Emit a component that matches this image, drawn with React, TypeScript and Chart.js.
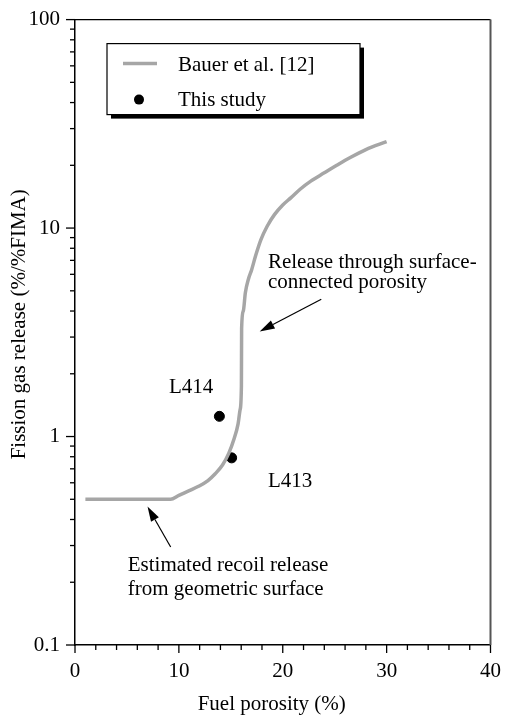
import React, { useEffect, useRef } from "react";
import { Chart, registerables } from "chart.js";

Chart.register(...registerables);

// Bauer et al. correlation: fuel porosity (%) vs fission gas release (%/%FIMA)
const bauerPorosity = [1, 9.2, 10.0, 11.0, 11.9, 12.8, 13.5, 14.2, 14.8, 15.3, 15.7, 15.9, 16.02, 16.04, 16.2, 16.4, 16.7, 17.0, 17.4, 17.9, 18.5, 19.2, 20.0, 20.8, 21.7, 22.7, 24.0, 25.2, 26.5, 28.0, 30.0];
const bauerRelease = [0.5, 0.5, 0.522, 0.55, 0.577, 0.615, 0.663, 0.73, 0.83, 0.97, 1.15, 1.35, 1.75, 3.3, 4.0, 4.9, 5.7, 6.3, 7.4, 8.8, 10.2, 11.6, 12.9, 14.0, 15.4, 16.8, 18.4, 20.0, 21.8, 23.8, 26.0];

// Measured specimens
const studyLabels = ["L414", "L413"];
const studyPorosity = [13.9, 15.08];
const studyRelease = [1.25, 0.79];

const legendLabels = ["Bauer et al. [12]", "This study"];

const xTickValues = [0, 2, 4, 6, 8, 10, 12, 14, 16, 18, 20, 22, 24, 26, 28, 30, 32, 34, 36, 38, 40];
const xTickLabels = ["0", "10", "20", "30", "40"];
const yMajorValues = [0.1, 1, 10, 100];
const yTickLabels = ["0.1", "1", "10", "100"];

const xTitle = "Fuel porosity (%)";
const yTitle = "Fission gas release (%/%FIMA)";

const FONT = "'Liberation Serif', 'Times New Roman', Times, serif";
const FONT_SIZE = 21;

function buildYTicks(): number[] {
  const out: number[] = [];
  for (let d = 0; d < yMajorValues.length; d++) {
    const base = yMajorValues[d];
    out.push(base);
    if (d < yMajorValues.length - 1) {
      for (let m = 2; m <= 9; m++) out.push(+(base * m).toPrecision(6));
    }
  }
  return out;
}

function majorIndexY(v: number): number {
  return yMajorValues.findIndex((m) => Math.abs(Math.log10(v) - Math.log10(m)) < 1e-6);
}

function drawArrow(ctx: CanvasRenderingContext2D, x1: number, y1: number, x2: number, y2: number) {
  const ang = Math.atan2(y2 - y1, x2 - x1);
  const headLen = 15;
  const headHalf = 4.5;
  const bx = x2 - headLen * Math.cos(ang);
  const by = y2 - headLen * Math.sin(ang);
  ctx.beginPath();
  ctx.moveTo(x1, y1);
  ctx.lineTo(bx, by);
  ctx.stroke();
  ctx.beginPath();
  ctx.moveTo(x2, y2);
  ctx.lineTo(bx + headHalf * Math.sin(ang), by - headHalf * Math.cos(ang));
  ctx.lineTo(bx - headHalf * Math.sin(ang), by + headHalf * Math.cos(ang));
  ctx.closePath();
  ctx.fill();
}

// Tick marks, frame, legend, titles and callouts
const decorations = {
  id: "decorations",
  afterDraw(chart: any) {
    const { ctx, chartArea: a, scales } = chart;
    const xs = scales.x;
    const ys = scales.y;
    ctx.save();
    ctx.strokeStyle = "#000";
    ctx.fillStyle = "#000";
    ctx.lineWidth = 1.3;

    // y tick marks (outside)
    ys.ticks.forEach((t: any) => {
      const py = ys.getPixelForValue(t.value);
      const len = majorIndexY(t.value) >= 0 ? 9 : 5;
      ctx.beginPath();
      ctx.moveTo(a.left - len, py);
      ctx.lineTo(a.left, py);
      ctx.stroke();
    });
    // x tick marks (outside)
    xs.ticks.forEach((t: any) => {
      const px = xs.getPixelForValue(t.value);
      const len = t.value % 10 === 0 ? 8 : 5;
      ctx.beginPath();
      ctx.moveTo(px, a.bottom);
      ctx.lineTo(px, a.bottom + len);
      ctx.stroke();
    });

    // top and right frame
    ctx.beginPath();
    ctx.moveTo(a.left, a.top);
    ctx.lineTo(a.right, a.top);
    ctx.stroke();
    ctx.strokeStyle = "#555";
    ctx.lineWidth = 2;
    ctx.beginPath();
    ctx.moveTo(a.right, a.top);
    ctx.lineTo(a.right, a.bottom);
    ctx.stroke();

    ctx.font = `${FONT_SIZE}px ${FONT}`;
    ctx.fillStyle = "#000";
    ctx.strokeStyle = "#000";

    // legend box with drop shadow
    const lb = { left: a.left + 32, top: a.top + 24, w: 253, h: 71 };
    ctx.fillRect(lb.left + 4, lb.top + 4, lb.w, lb.h);
    ctx.fillStyle = "#fff";
    ctx.fillRect(lb.left, lb.top, lb.w, lb.h);
    ctx.lineWidth = 1.2;
    ctx.strokeRect(lb.left, lb.top, lb.w, lb.h);

    const ds = chart.data.datasets;
    ctx.strokeStyle = ds[0].borderColor;
    ctx.lineWidth = ds[0].borderWidth;
    ctx.beginPath();
    ctx.moveTo(lb.left + 16, lb.top + 20);
    ctx.lineTo(lb.left + 50, lb.top + 20);
    ctx.stroke();
    ctx.fillStyle = ds[1].backgroundColor;
    ctx.beginPath();
    ctx.arc(lb.left + 32, lb.top + 56, ds[1].pointRadius, 0, Math.PI * 2);
    ctx.fill();
    ctx.fillStyle = "#000";
    ctx.textAlign = "left";
    ctx.textBaseline = "alphabetic";
    ctx.fillText(legendLabels[0], lb.left + 71, lb.top + 27);
    ctx.fillText(legendLabels[1], lb.left + 71, lb.top + 62);

    // callout text
    const txt = (s: string, xv: number, yv: number, dy = 0) => {
      ctx.fillText(s, xs.getPixelForValue(xv), ys.getPixelForValue(yv) + dy);
    };
    txt("Release through surface-", 18.57, 6.46);
    txt("connected porosity", 18.57, 6.46, 20);
    txt("Estimated recoil release", 5.08, 0.226);
    txt("from geometric surface", 5.08, 0.226, 24);
    txt(studyLabels[0], 9.05, 1.62);
    txt(studyLabels[1], 18.57, 0.57);

    // arrows
    ctx.lineWidth = 1.2;
    ctx.strokeStyle = "#000";
    drawArrow(ctx, xs.getPixelForValue(23.71), ys.getPixelForValue(4.56), xs.getPixelForValue(17.78), ys.getPixelForValue(3.19));
    drawArrow(ctx, xs.getPixelForValue(9.21), ys.getPixelForValue(0.295), xs.getPixelForValue(6.98), ys.getPixelForValue(0.462));

    // axis titles
    ctx.textAlign = "center";
    ctx.textBaseline = "alphabetic";
    ctx.fillText(xTitle, (a.left + a.right) / 2 - 11, a.bottom + 65);
    ctx.save();
    ctx.translate(a.left - 50, (a.top + a.bottom) / 2 - 8);
    ctx.rotate(-Math.PI / 2);
    ctx.fillText(yTitle, 0, 0);
    ctx.restore();

    ctx.restore();
  },
};

export default function App() {
  const canvasRef = useRef<HTMLCanvasElement | null>(null);

  useEffect(() => {
    if (!canvasRef.current) return;
    Chart.defaults.font.family = FONT;
    Chart.defaults.font.size = FONT_SIZE;
    Chart.defaults.color = "#000";

    const chart = new Chart(canvasRef.current, {
      type: "scatter",
      data: {
        datasets: [
          {
            type: "line",
            label: legendLabels[0],
            data: bauerPorosity.map((x, i) => ({ x, y: bauerRelease[i] })),
            borderColor: "#a6a6a6",
            borderWidth: 3.5,
            pointRadius: 0,
            cubicInterpolationMode: "monotone",
            fill: false,
          } as any,
          {
            type: "scatter",
            label: legendLabels[1],
            data: studyPorosity.map((x, i) => ({ x, y: studyRelease[i] })),
            backgroundColor: "#000",
            borderColor: "#000",
            pointRadius: 5,
            pointHoverRadius: 5,
          } as any,
        ],
      },
      options: {
        animation: false,
        responsive: false,
        devicePixelRatio: 1,
        events: [],
        layout: { padding: { left: 0, right: 12, top: 18, bottom: 0 } },
        plugins: { legend: { display: false }, tooltip: { enabled: false } },
        scales: {
          x: {
            type: "linear",
            min: 0,
            max: 40,
            afterFit: (s: any) => {
              s.height = 70;
            },
            afterBuildTicks: (s: any) => {
              s.ticks = xTickValues.map((value) => ({ value }));
            },
            ticks: {
              autoSkip: false,
              maxRotation: 0,
              padding: 6,
              color: "#000",
              callback: (v: any) => {
                const idx = xTickValues.indexOf(Number(v));
                return Number(v) % 10 === 0 && idx >= 0 ? xTickLabels[Number(v) / 10] : "";
              },
            },
            grid: { drawOnChartArea: false, color: "rgba(0,0,0,0)", tickLength: 8 },
            border: { display: true, color: "#000", width: 1.5 },
          },
          y: {
            type: "logarithmic",
            min: 0.1,
            max: 100,
            afterFit: (s: any) => {
              s.width = 75;
            },
            afterBuildTicks: (s: any) => {
              s.ticks = buildYTicks().map((value) => ({ value }));
            },
            ticks: {
              autoSkip: false,
              padding: 7,
              color: "#000",
              callback: (v: any) => {
                const i = majorIndexY(Number(v));
                return i >= 0 ? yTickLabels[i] : "";
              },
            },
            grid: { drawOnChartArea: false, color: "rgba(0,0,0,0)", tickLength: 8 },
            border: { display: true, color: "#000", width: 1.5 },
          },
        },
      },
      plugins: [decorations],
    });

    return () => chart.destroy();
  }, []);

  return (
    <div style={{ position: "absolute", left: 0, top: 0, width: 507, height: 715, background: "#fff" }}>
      <canvas ref={canvasRef} width={507} height={715} />
    </div>
  );
}
